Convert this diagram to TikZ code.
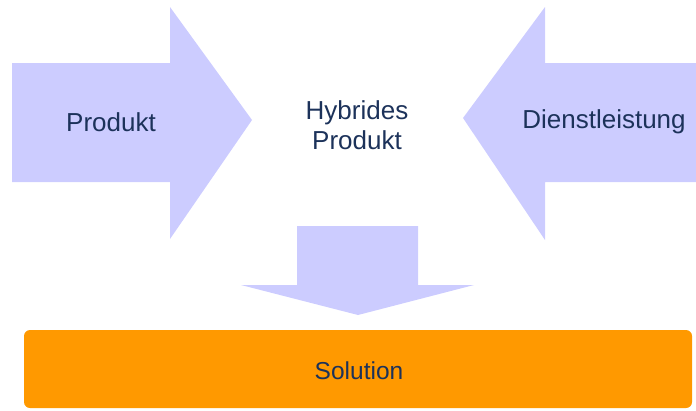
\documentclass[tikz,border=0pt]{standalone}
\usepackage{fontspec}
\setmainfont{Liberation Sans}
\definecolor{lavender}{HTML}{CCCCFF}
\definecolor{solorange}{HTML}{FF9900}
\definecolor{navy}{HTML}{1C325A}
\tikzset{
  flowarrow/.style = {fill=lavender, draw=none},
  label/.style = {text=navy, font=\fontsize{26}{30}\selectfont, align=center, inner sep=0pt}
}
\begin{document}
\begin{tikzpicture}[x=1pt, y=-1pt]
	\useasboundingbox (0,0) rectangle (696,410);

	% arrow from the left
	\fill [flowarrow] (12,63) -- (170,63) -- (170,7) -- (252,120) -- (170,239)
		-- (170,182) -- (12,182) -- cycle;
	% arrow from the right
	\fill [flowarrow] (696,63) -- (545,63) -- (545,7) -- (463,118) -- (545,240)
		-- (545,182) -- (696,182) -- cycle;
	% arrow down
	\fill [flowarrow] (297,226) -- (418,226) -- (418,285) -- (474,285) -- (358,315)
		-- (241,285) -- (297,285) -- cycle;

	% result bar
	\fill [solorange, rounded corners=6pt] (24,330) rectangle (692,408);

	\node [label] (produkt) at (111,122) {Produkt};
	\node [label] (hybrid) at (357,125) {Hybrides\\Produkt};
	\node [label] (dienst) at (604,122) {Dienstleistung};
	\node [label, font=\fontsize{24.5}{30}\selectfont] (solution) at (359,371) {Solution};
\end{tikzpicture}
\end{document}
